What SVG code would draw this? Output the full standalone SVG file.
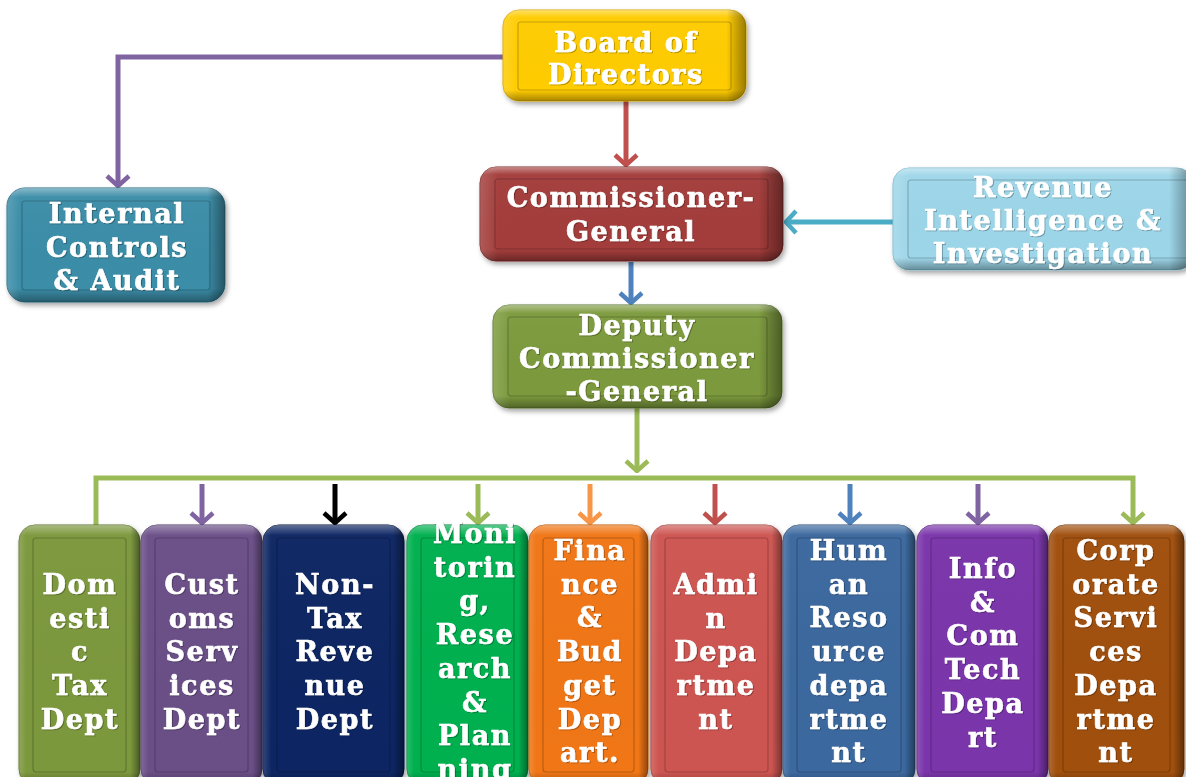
<svg xmlns="http://www.w3.org/2000/svg" width="1186" height="777" viewBox="0 0 1186 777">
  <defs>
    <style>
      .lbl { font-family: "DejaVu Serif", "Liberation Serif", serif; font-weight: bold; font-size: 27px; letter-spacing: 1.6px; fill: #ffffff; stroke: #ffffff; stroke-width: 0.6px; text-anchor: middle; filter: url(#tshadow); }
      .inner { fill: none; stroke: rgba(0,0,0,0.22); stroke-width: 1.2; }
      .shadeV { fill: url(#bevelV); }
      .shadeH { fill: url(#bevelH); }
      .tall .shadeV { fill: url(#bevelT); }
      .wire { fill: none; stroke-width: 5; stroke-linecap: butt; stroke-linejoin: miter; }
    </style>
    <!-- bevel overlays: light top edge, dark bottom/right edges -->
    <linearGradient id="bevelV" x1="0" y1="0" x2="0" y2="1">
      <stop offset="0" stop-color="#ffffff" stop-opacity="0.4"/>
      <stop offset="0.08" stop-color="#ffffff" stop-opacity="0.03"/>
      <stop offset="0.88" stop-color="#000000" stop-opacity="0"/>
      <stop offset="1" stop-color="#000000" stop-opacity="0.35"/>
    </linearGradient>
    <linearGradient id="bevelT" gradientUnits="userSpaceOnUse" x1="0" y1="525" x2="0" y2="785">
      <stop offset="0" stop-color="#ffffff" stop-opacity="0.35"/>
      <stop offset="0.04" stop-color="#ffffff" stop-opacity="0.02"/>
      <stop offset="0.95" stop-color="#000000" stop-opacity="0"/>
      <stop offset="1" stop-color="#000000" stop-opacity="0.3"/>
    </linearGradient>
    <linearGradient id="bevelH" x1="0" y1="0" x2="1" y2="0">
      <stop offset="0" stop-color="#ffffff" stop-opacity="0.15"/>
      <stop offset="0.06" stop-color="#ffffff" stop-opacity="0"/>
      <stop offset="0.92" stop-color="#000000" stop-opacity="0"/>
      <stop offset="1" stop-color="#000000" stop-opacity="0.4"/>
    </linearGradient>
    <filter id="drop" x="-10%" y="-10%" width="120%" height="130%">
      <feDropShadow dx="2" dy="3" stdDeviation="2.5" flood-color="#000" flood-opacity="0.35"/>
    </filter>
    <filter id="tshadow" x="-10%" y="-20%" width="120%" height="140%">
      <feDropShadow dx="1" dy="1" stdDeviation="0.6" flood-color="#000" flood-opacity="0.3"/>
    </filter>
    <!-- open chevron arrowheads, one per wire colour -->
    <marker id="mPurple" viewBox="0 0 14 26" refX="12" refY="13" markerWidth="14" markerHeight="26" markerUnits="userSpaceOnUse" orient="auto"><path d="M2,2 L12,13 L2,24" fill="none" stroke="#8064A2" stroke-width="4.5"/></marker>
    <marker id="mRed" viewBox="0 0 14 26" refX="12" refY="13" markerWidth="14" markerHeight="26" markerUnits="userSpaceOnUse" orient="auto"><path d="M2,2 L12,13 L2,24" fill="none" stroke="#C0504D" stroke-width="4.5"/></marker>
    <marker id="mBlue" viewBox="0 0 14 26" refX="12" refY="13" markerWidth="14" markerHeight="26" markerUnits="userSpaceOnUse" orient="auto"><path d="M2,2 L12,13 L2,24" fill="none" stroke="#4F81BD" stroke-width="4.5"/></marker>
    <marker id="mCyan" viewBox="0 0 14 26" refX="12" refY="13" markerWidth="14" markerHeight="26" markerUnits="userSpaceOnUse" orient="auto"><path d="M2,2 L12,13 L2,24" fill="none" stroke="#4BACC6" stroke-width="4.5"/></marker>
    <marker id="mGreen" viewBox="0 0 14 26" refX="12" refY="13" markerWidth="14" markerHeight="26" markerUnits="userSpaceOnUse" orient="auto"><path d="M2,2 L12,13 L2,24" fill="none" stroke="#9BBB59" stroke-width="4.5"/></marker>
    <marker id="mOrange" viewBox="0 0 14 26" refX="12" refY="13" markerWidth="14" markerHeight="26" markerUnits="userSpaceOnUse" orient="auto"><path d="M2,2 L12,13 L2,24" fill="none" stroke="#F79646" stroke-width="4.5"/></marker>
    <marker id="mBlack" viewBox="0 0 14 26" refX="12" refY="13" markerWidth="14" markerHeight="26" markerUnits="userSpaceOnUse" orient="auto"><path d="M2,2 L12,13 L2,24" fill="none" stroke="#000000" stroke-width="4.5"/></marker>
  </defs>

  <rect x="0" y="0" width="1186" height="777" fill="#ffffff"/>

  <!-- connectors -->
  <g id="connectors">
    <path class="wire" d="M503,57 H118 V186" stroke="#8064A2" marker-end="url(#mPurple)"/>
    <path class="wire" d="M626,101 V165" stroke="#C0504D" marker-end="url(#mRed)"/>
    <path class="wire" d="M631,262 V303" stroke="#4F81BD" marker-end="url(#mBlue)"/>
    <path class="wire" d="M893,222 H786" stroke="#4BACC6" marker-end="url(#mCyan)"/>
    <path class="wire" d="M637,408 V471" stroke="#9BBB59" marker-end="url(#mGreen)"/>
    <path class="wire" d="M96,526 V478 H1133 V523" stroke="#9BBB59" marker-end="url(#mGreen)"/>
    <path class="wire" d="M202,484 V523" stroke="#8064A2" marker-end="url(#mPurple)"/>
    <path class="wire" d="M335,484 V523" stroke="#000000" marker-end="url(#mBlack)"/>
    <path class="wire" d="M478,484 V523" stroke="#9BBB59" marker-end="url(#mGreen)"/>
    <path class="wire" d="M590,484 V523" stroke="#F79646" marker-end="url(#mOrange)"/>
    <path class="wire" d="M715,484 V523" stroke="#C0504D" marker-end="url(#mRed)"/>
    <path class="wire" d="M850,484 V523" stroke="#4F81BD" marker-end="url(#mBlue)"/>
    <path class="wire" d="M978,484 V523" stroke="#8064A2" marker-end="url(#mPurple)"/>
  </g>

  <!-- top-level nodes -->
  <g id="board">
    <rect x="503" y="10" width="243" height="91" rx="16" fill="#FFCC00" stroke="#D9A800" filter="url(#drop)"/>
    <rect class="shadeV" x="503" y="10" width="243" height="91" rx="16"/>
    <rect class="shadeH" x="503" y="10" width="243" height="91" rx="16"/>
    <rect class="inner" x="518" y="22" width="213" height="68" rx="3" fill="#FFCC00"/>
    <text class="lbl" x="626" y="52">Board of<tspan x="626" dy="32">Directors</tspan></text>
  </g>

  <g id="internal-audit">
    <rect x="7" y="188" width="218" height="114" rx="18" fill="#3A8DA8" stroke="#2C6E84" filter="url(#drop)"/>
    <rect class="shadeV" x="7" y="188" width="218" height="114" rx="18"/>
    <rect class="shadeH" x="7" y="188" width="218" height="114" rx="18"/>
    <rect class="inner" x="22" y="201" width="188" height="89" rx="3"/>
    <text class="lbl" x="117" y="223">Internal<tspan x="117" dy="33.5">Controls</tspan><tspan x="117" dy="33.5">&amp; Audit</tspan></text>
  </g>

  <g id="commissioner-general">
    <rect x="480" y="167" width="303" height="94" rx="16" fill="#A33D3A" stroke="#7F2C2A" filter="url(#drop)"/>
    <rect class="shadeV" x="480" y="167" width="303" height="94" rx="16"/>
    <rect class="shadeH" x="480" y="167" width="303" height="94" rx="16"/>
    <rect class="inner" x="495" y="179" width="273" height="70" rx="3"/>
    <text class="lbl" x="631" y="207">Commissioner-<tspan x="631" dy="34">General</tspan></text>
  </g>

  <g id="revenue-intelligence">
    <rect x="893" y="168" width="300" height="102" rx="16" fill="#9DD6E9" stroke="#7FBBD0" filter="url(#drop)"/>
    <rect class="shadeV" x="893" y="168" width="300" height="102" rx="16"/>
    <rect class="shadeH" x="893" y="168" width="300" height="102" rx="16"/>
    <rect class="inner" x="908" y="180" width="290" height="78" rx="3"/>
    <text class="lbl" x="1043" y="197">Revenue<tspan x="1043" dy="33">Intelligence &amp;</tspan><tspan x="1043" dy="33">Investigation</tspan></text>
  </g>

  <g id="deputy-commissioner-general">
    <rect x="493" y="305" width="289" height="103" rx="16" fill="#7B9A3E" stroke="#5F7830" filter="url(#drop)"/>
    <rect class="shadeV" x="493" y="305" width="289" height="103" rx="16"/>
    <rect class="shadeH" x="493" y="305" width="289" height="103" rx="16"/>
    <rect class="inner" x="508" y="317" width="259" height="79" rx="3"/>
    <text class="lbl" x="637" y="335">Deputy<tspan x="637" dy="33">Commissioner</tspan><tspan x="637" dy="33">-General</tspan></text>
  </g>

  <!-- department nodes -->
  <g id="domestic-tax" class="tall">
    <rect x="19" y="525" width="121" height="260" rx="16" fill="#7C983C" stroke="#5E7430" filter="url(#drop)"/>
    <rect class="shadeV" x="19" y="525" width="121" height="260" rx="16"/>
    <rect class="shadeH" x="19" y="525" width="121" height="260" rx="16"/>
    <rect class="inner" x="33" y="538" width="93" height="234" rx="3"/>
    <text class="lbl" x="80" y="594">Dom<tspan x="80" dy="33.7">esti</tspan><tspan x="80" dy="33.7">c</tspan><tspan x="80" dy="33.7">Tax</tspan><tspan x="80" dy="33.7">Dept</tspan></text>
  </g>

  <g id="customs" class="tall">
    <rect x="141" y="525" width="121" height="260" rx="16" fill="#6A4F87" stroke="#4F3A66" filter="url(#drop)"/>
    <rect class="shadeV" x="141" y="525" width="121" height="260" rx="16"/>
    <rect class="shadeH" x="141" y="525" width="121" height="260" rx="16"/>
    <rect class="inner" x="155" y="538" width="93" height="234" rx="3"/>
    <text class="lbl" x="202" y="594">Cust<tspan x="202" dy="33.7">oms</tspan><tspan x="202" dy="33.7">Serv</tspan><tspan x="202" dy="33.7">ices</tspan><tspan x="202" dy="33.7">Dept</tspan></text>
  </g>

  <g id="non-tax-revenue" class="tall">
    <rect x="263" y="525" width="141" height="260" rx="16" fill="#0B2563" stroke="#06173F" filter="url(#drop)"/>
    <rect class="shadeV" x="263" y="525" width="141" height="260" rx="16"/>
    <rect class="shadeH" x="263" y="525" width="141" height="260" rx="16"/>
    <rect class="inner" x="277" y="538" width="113" height="234" rx="3"/>
    <text class="lbl" x="335" y="594">Non-<tspan x="335" dy="33.7">Tax</tspan><tspan x="335" dy="33.7">Reve</tspan><tspan x="335" dy="33.7">nue</tspan><tspan x="335" dy="33.7">Dept</tspan></text>
  </g>

  <g id="monitoring" class="tall">
    <rect x="407" y="525" width="121" height="260" rx="16" fill="#00B050" stroke="#008A3E" filter="url(#drop)"/>
    <rect class="shadeV" x="407" y="525" width="121" height="260" rx="16"/>
    <rect class="shadeH" x="407" y="525" width="121" height="260" rx="16"/>
    <rect class="inner" x="421" y="538" width="93" height="234" rx="3"/>
    <text class="lbl" x="475" y="543">Moni<tspan x="475" dy="33.7">torin</tspan><tspan x="475" dy="33.7">g,</tspan><tspan x="475" dy="33.7">Rese</tspan><tspan x="475" dy="33.7">arch</tspan><tspan x="475" dy="33.7">&amp;</tspan><tspan x="475" dy="33.7">Plan</tspan><tspan x="475" dy="33.7">ning</tspan></text>
  </g>

  <g id="finance-budget" class="tall">
    <rect x="529" y="525" width="119" height="260" rx="16" fill="#F07614" stroke="#C25A08" filter="url(#drop)"/>
    <rect class="shadeV" x="529" y="525" width="119" height="260" rx="16"/>
    <rect class="shadeH" x="529" y="525" width="119" height="260" rx="16"/>
    <rect class="inner" x="543" y="538" width="91" height="234" rx="3"/>
    <text class="lbl" x="590" y="560">Fina<tspan x="590" dy="33.7">nce</tspan><tspan x="590" dy="33.7">&amp;</tspan><tspan x="590" dy="33.7">Bud</tspan><tspan x="590" dy="33.7">get</tspan><tspan x="590" dy="33.7">Dep</tspan><tspan x="590" dy="33.7">art.</tspan></text>
  </g>

  <g id="admin" class="tall">
    <rect x="651" y="525" width="131" height="260" rx="16" fill="#CD5551" stroke="#A2403D" filter="url(#drop)"/>
    <rect class="shadeV" x="651" y="525" width="131" height="260" rx="16"/>
    <rect class="shadeH" x="651" y="525" width="131" height="260" rx="16"/>
    <rect class="inner" x="665" y="538" width="103" height="234" rx="3"/>
    <text class="lbl" x="716" y="594">Admi<tspan x="716" dy="33.7">n</tspan><tspan x="716" dy="33.7">Depa</tspan><tspan x="716" dy="33.7">rtme</tspan><tspan x="716" dy="33.7">nt</tspan></text>
  </g>

  <g id="human-resource" class="tall">
    <rect x="783" y="525" width="132" height="260" rx="16" fill="#3B689E" stroke="#2B4E78" filter="url(#drop)"/>
    <rect class="shadeV" x="783" y="525" width="132" height="260" rx="16"/>
    <rect class="shadeH" x="783" y="525" width="132" height="260" rx="16"/>
    <rect class="inner" x="797" y="538" width="104" height="234" rx="3"/>
    <text class="lbl" x="849" y="560">Hum<tspan x="849" dy="33.7">an</tspan><tspan x="849" dy="33.7">Reso</tspan><tspan x="849" dy="33.7">urce</tspan><tspan x="849" dy="33.7">depa</tspan><tspan x="849" dy="33.7">rtme</tspan><tspan x="849" dy="33.7">nt</tspan></text>
  </g>

  <g id="info-com-tech" class="tall">
    <rect x="917" y="525" width="131" height="260" rx="16" fill="#7A35AA" stroke="#5A2580" filter="url(#drop)"/>
    <rect class="shadeV" x="917" y="525" width="131" height="260" rx="16"/>
    <rect class="shadeH" x="917" y="525" width="131" height="260" rx="16"/>
    <rect class="inner" x="931" y="538" width="103" height="234" rx="3"/>
    <text class="lbl" x="983" y="578">Info<tspan x="983" dy="33.7">&amp;</tspan><tspan x="983" dy="33.7">Com</tspan><tspan x="983" dy="33.7">Tech</tspan><tspan x="983" dy="33.7">Depa</tspan><tspan x="983" dy="33.7">rt</tspan></text>
  </g>

  <g id="corporate-services" class="tall">
    <rect x="1049" y="525" width="135" height="260" rx="16" fill="#A0500C" stroke="#783A06" filter="url(#drop)"/>
    <rect class="shadeV" x="1049" y="525" width="135" height="260" rx="16"/>
    <rect class="shadeH" x="1049" y="525" width="135" height="260" rx="16"/>
    <rect class="inner" x="1063" y="538" width="107" height="234" rx="3"/>
    <text class="lbl" x="1116" y="560">Corp<tspan x="1116" dy="33.7">orate</tspan><tspan x="1116" dy="33.7">Servi</tspan><tspan x="1116" dy="33.7">ces</tspan><tspan x="1116" dy="33.7">Depa</tspan><tspan x="1116" dy="33.7">rtme</tspan><tspan x="1116" dy="33.7">nt</tspan></text>
  </g>
</svg>
